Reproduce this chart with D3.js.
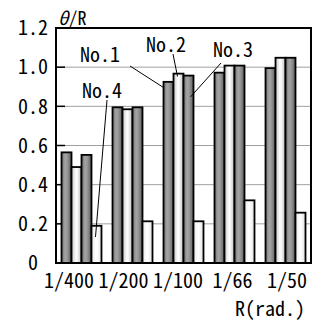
<!DOCTYPE html>
<html>
<head>
<meta charset="utf-8">
<script src="https://cdn.jsdelivr.net/npm/d3@7"></script>
<style>
  html, body { margin: 0; padding: 0; background: #fff; }
  svg text { font-family: 'Noto Sans Mono CJK JP', 'Noto Sans CJK JP', monospace; fill: #000; }
</style>
</head>
<body>
<svg id="chart" width="320" height="323"></svg>
<script>
// ---- data ----
const categories = ["1/400", "1/200", "1/100", "1/66", "1/50"];
const seriesNames = ["No.1", "No.2", "No.3", "No.4"];
const no1 = [0.565, 0.795, 0.925, 0.972, 0.995];
const no2 = [0.49, 0.785, 0.967, 1.008, 1.048];
const no3 = [0.552, 0.795, 0.957, 1.008, 1.048];
const no4 = [0.19, 0.213, 0.213, 0.32, 0.257];
const yTicks = [0, 0.2, 0.4, 0.6, 0.8, 1.0, 1.2];
const yLabels = ["0", "0.2", "0.4", "0.6", "0.8", "1.0", "1.2"];
const xTitle = "R(rad.)";
const yTitle = ["θ", "/R"];

const seriesValues = [no1, no2, no3, no4];

// ---- layout ----
const svg = d3.select("#chart");
const M = { left: 56, top: 28, right: 311, bottom: 263 };
const FS = 20;

const x0 = d3.scaleBand().domain(categories).range([M.left, M.right])
  .paddingInner(0.216).paddingOuter(0.108);
const x1 = d3.scaleBand().domain(d3.range(4)).range([0, x0.bandwidth()]);
const y = d3.scaleLinear().domain([0, 1.2]).range([M.bottom, M.top]);
// category labels are spread slightly wider than the bar groups
const xLab = d3.scalePoint().domain(categories).range([69, 287]);

// gradients
const defs = svg.append("defs");
const grads = [
  [["0%", "#6e6e6e"], ["35%", "#a4a4a4"], ["55%", "#9a9a9a"], ["100%", "#5e5e5e"]],
  [["0%", "#c4c4c4"], ["45%", "#ffffff"], ["60%", "#f4f4f4"], ["100%", "#bcbcbc"]],
  [["0%", "#6e6e6e"], ["35%", "#a4a4a4"], ["55%", "#9a9a9a"], ["100%", "#5e5e5e"]],
  [["0%", "#e8e8e8"], ["45%", "#ffffff"], ["60%", "#fafafa"], ["100%", "#e2e2e2"]]
];
grads.forEach((stops, i) => {
  const g = defs.append("linearGradient").attr("id", "g" + i)
    .attr("x1", "0%").attr("x2", "100%").attr("y1", "0%").attr("y2", "0%");
  stops.forEach(s => g.append("stop").attr("offset", s[0]).attr("stop-color", s[1]));
});

// gridlines
svg.append("g").selectAll("line")
  .data(yTicks.filter(t => t > 0 && t < 1.2))
  .join("line")
  .attr("x1", M.left).attr("x2", M.right)
  .attr("y1", d => y(d)).attr("y2", d => y(d))
  .attr("stroke", "#a0a0a0").attr("stroke-width", 1);

// inward tick marks
svg.append("g").selectAll("line")
  .data(yTicks.filter(t => t > 0 && t < 1.2))
  .join("line")
  .attr("x1", M.left).attr("x2", M.left + 9)
  .attr("y1", d => y(d)).attr("y2", d => y(d))
  .attr("stroke", "#000").attr("stroke-width", 1.5);

// bars
const groups = svg.append("g").selectAll("g")
  .data(categories)
  .join("g")
  .attr("transform", d => `translate(${x0(d)},0)`);

groups.selectAll("rect")
  .data((c, ci) => seriesValues.map((vals, si) => ({ si, v: vals[ci] })))
  .join("rect")
  .attr("x", d => x1(d.si))
  .attr("width", x1.bandwidth())
  .attr("y", d => y(d.v))
  .attr("height", d => y(0) - y(d.v))
  .attr("fill", d => `url(#g${d.si})`)
  .attr("stroke", "#000").attr("stroke-width", 1.8);

// frame
svg.append("rect")
  .attr("x", M.left).attr("y", M.top)
  .attr("width", M.right - M.left).attr("height", M.bottom - M.top)
  .attr("fill", "none").attr("stroke", "#000").attr("stroke-width", 2);

// y labels
svg.append("g").selectAll("text")
  .data(yTicks)
  .join("text")
  .attr("x", 33)
  .attr("y", d => y(d))
  .attr("dy", "0.36em")
  .attr("text-anchor", "middle")
  .attr("font-size", FS)
  .text((d, i) => yLabels[i]);

// x labels
svg.append("g").selectAll("text")
  .data(categories)
  .join("text")
  .attr("x", d => xLab(d))
  .attr("y", 288)
  .attr("text-anchor", "middle")
  .attr("font-size", FS)
  .text(d => d);

// axis titles
svg.append("text")
  .attr("x", 305).attr("y", 316)
  .attr("text-anchor", "end")
  .attr("font-size", FS)
  .text(xTitle);

const yt = svg.append("text").attr("x", 58).attr("y", 25).attr("font-size", 18);
yt.append("tspan").attr("font-style", "italic").text(yTitle[0]);
yt.append("tspan").text(yTitle[1]);

// annotations: label with leader line to a bar in a category
const annotations = [
  { label: "No.1", series: 0, cat: 2, tx: 80, ty: 62, lx: 130, ly: 66, fx: 0.05, fv: 0.967 },
  { label: "No.2", series: 1, cat: 2, tx: 146, ty: 52, lx: 173, ly: 54, fx: 0.4, fv: 0.985 },
  { label: "No.3", series: 2, cat: 2, tx: 213, ty: 57, lx: 221, ly: 63, fx: 0.7, fv: 0.886 },
  { label: "No.4", series: 3, cat: 0, tx: 82, ty: 98, lx: 107, ly: 100, fx: 0.4, fv: 0.7 }
];
annotations.forEach(a => {
  const cat = categories[a.cat];
  const v = seriesValues[a.series][a.cat];
  const ex = x0(cat) + x1(a.series) + x1.bandwidth() * a.fx;
  const ey = y(v * a.fv);
  svg.append("line")
    .attr("x1", a.lx).attr("y1", a.ly).attr("x2", ex).attr("y2", ey)
    .attr("stroke", "#000").attr("stroke-width", 1);
  svg.append("text")
    .attr("x", a.tx).attr("y", a.ty)
    .attr("font-size", FS)
    .text(a.label);
});
</script>
</body>
</html>
